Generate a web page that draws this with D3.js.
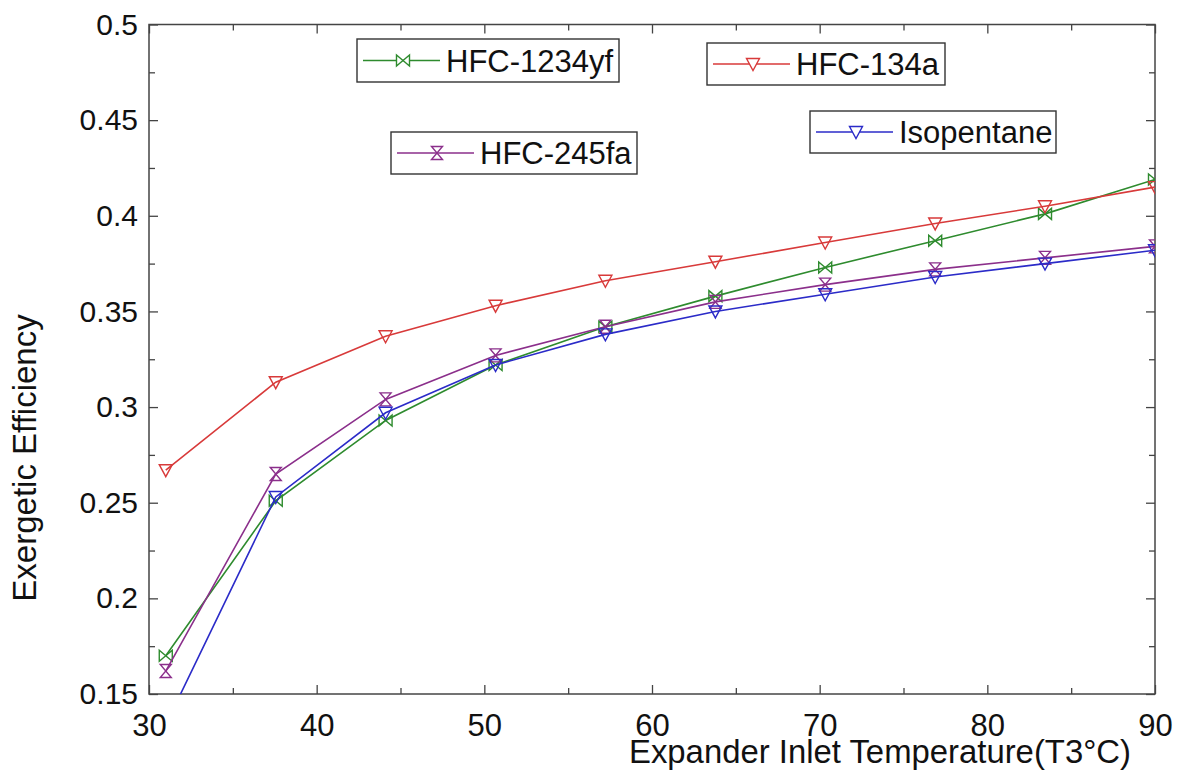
<!DOCTYPE html>
<html lang="en">

<head>
  <meta charset="UTF-8">
  <title>Exergetic Efficiency vs Expander Inlet Temperature</title>
  <script src="https://d3js.org/d3.v7.min.js"></script>
  <style>
    body {
      margin: 0;
      background: #fff;
      font-family: "Liberation Sans", Arial, sans-serif;
    }

    .tick text {
      font-family: "Liberation Sans", Arial, sans-serif;
      fill: #111;
    }

    .tick line {
      stroke: #444;
      stroke-width: 1.3;
    }

    .axis-label {
      fill: #111;
    }

    .legend-box {
      fill: #fff;
      stroke: #333;
      stroke-width: 1.4;
    }

    .legend-text {
      font-size: 31px;
      fill: #111;
    }
  </style>
</head>

<body>
  <div id="chart"></div>

  <script>
    // data
    const temps = [31, 37.56, 44.11, 50.67, 57.22, 63.78, 70.33, 76.89, 83.44, 90];
    const hfc1234yf = [0.170, 0.251, 0.293, 0.322, 0.342, 0.358, 0.373, 0.387, 0.401, 0.419];
    const hfc134a = [0.267, 0.313, 0.337, 0.353, 0.366, 0.376, 0.386, 0.396, 0.405, 0.415];
    const hfc245fa = [0.162, 0.265, 0.304, 0.327, 0.342, 0.355, 0.364, 0.372, 0.378, 0.384];
    const isopentane = [0.134, 0.253, 0.297, 0.322, 0.338, 0.350, 0.359, 0.368, 0.375, 0.382];

    const xTicks = [30, 40, 50, 60, 70, 80, 90];
    const yTicks = [0.15, 0.2, 0.25, 0.3, 0.35, 0.4, 0.45, 0.5];

    const series = [
      { name: "HFC-1234yf", values: hfc1234yf, color: "#2e8b2e", marker: "bowtie" },
      { name: "HFC-134a", values: hfc134a, color: "#d83a3a", marker: "tri" },
      { name: "HFC-245fa", values: hfc245fa, color: "#8b2f8b", marker: "hourglass" },
      { name: "Isopentane", values: isopentane, color: "#2b2bc8", marker: "tri" }
    ];

    // legend boxes sit at fixed spots, like the original figure
    const legendPos = {
      "HFC-1234yf": { x: 357, y: 39, w: 262, h: 43 },
      "HFC-134a": { x: 707, y: 43, w: 238, h: 42 },
      "HFC-245fa": { x: 391, y: 132, w: 246, h: 42 },
      "Isopentane": { x: 810, y: 111, w: 246, h: 42 }
    };

    const markerPaths = {
      tri: "M-6.5,-5.5L6.5,-5.5L0,6.5Z",
      bowtie: "M-6.5,-5.5L-6.5,5.5L6.5,-5.5L6.5,5.5Z",
      hourglass: "M-5.5,-6.5L5.5,-6.5L-5.5,6.5L5.5,6.5Z"
    };

    const margin = { top: 24.5, right: 31, bottom: 81, left: 149 };
    const totalW = 1186, totalH = 775;
    const width = totalW - margin.left - margin.right;
    const height = totalH - margin.top - margin.bottom;

    const svgRoot = d3.select("#chart").append("svg")
      .attr("width", totalW)
      .attr("height", totalH);

    const svg = svgRoot.append("g")
      .attr("transform", `translate(${margin.left},${margin.top})`);

    const x = d3.scaleLinear().domain([30, 90]).range([0, width]);
    const y = d3.scaleLinear().domain([0.15, 0.5]).range([height, 0]);

    const fmt = d => String(+d.toFixed(2));

    // minor ticks every 5 / 0.025
    const xMinor = d3.range(35, 90, 10);
    const yMinor = d3.range(0.175, 0.5, 0.05);

    function addAxis(axis, transform, showLabels) {
      const g = svg.append("g").attr("transform", transform).call(axis);
      g.select(".domain").remove();
      if (!showLabels) g.selectAll("text").remove();
      return g;
    }

    // bottom
    addAxis(d3.axisBottom(x).tickValues(xTicks).tickSize(-9).tickPadding(20).tickFormat(d => d),
      `translate(0,${height})`, true)
      .selectAll("text").style("font-size", "31px");
    addAxis(d3.axisBottom(x).tickValues(xMinor).tickSize(-6), `translate(0,${height})`, false);
    // top
    addAxis(d3.axisTop(x).tickValues(xTicks).tickSize(-9), "translate(0,0)", false);
    addAxis(d3.axisTop(x).tickValues(xMinor).tickSize(-6), "translate(0,0)", false);
    // left
    addAxis(d3.axisLeft(y).tickValues(yTicks).tickSize(-9).tickPadding(11).tickFormat(fmt),
      "translate(0,0)", true)
      .selectAll("text").style("font-size", "30px");
    addAxis(d3.axisLeft(y).tickValues(yMinor).tickSize(-6), "translate(0,0)", false);
    // right
    addAxis(d3.axisRight(y).tickValues(yTicks).tickSize(-9), `translate(${width},0)`, false);
    addAxis(d3.axisRight(y).tickValues(yMinor).tickSize(-6), `translate(${width},0)`, false);

    // frame
    svg.append("rect")
      .attr("width", width)
      .attr("height", height)
      .attr("fill", "none")
      .attr("stroke", "#444")
      .attr("stroke-width", 1.5);

    svg.append("clipPath").attr("id", "plot-clip")
      .append("rect").attr("width", width).attr("height", height);

    const plot = svg.append("g").attr("clip-path", "url(#plot-clip)");

    const line = d3.line()
      .x((d, i) => x(temps[i]))
      .y(d => y(d));

    series.forEach(s => {
      plot.append("path")
        .datum(s.values)
        .attr("fill", "none")
        .attr("stroke", s.color)
        .attr("stroke-width", 1.6)
        .attr("d", line);

      plot.selectAll(null)
        .data(s.values)
        .enter().append("path")
        .attr("transform", (d, i) => `translate(${x(temps[i])},${y(d)})`)
        .attr("d", markerPaths[s.marker])
        .attr("fill", "none")
        .attr("stroke", s.color)
        .attr("stroke-width", 1.4);
    });

    // axis titles
    svgRoot.append("text")
      .attr("class", "axis-label")
      .attr("x", 629)
      .attr("y", 763)
      .attr("textLength", 502)
      .attr("lengthAdjust", "spacingAndGlyphs")
      .style("font-size", "33px")
      .text("Expander Inlet Temperature(T3°C)");

    svgRoot.append("text")
      .attr("class", "axis-label")
      .attr("transform", "translate(36,458) rotate(-90)")
      .attr("text-anchor", "middle")
      .style("font-size", "33px")
      .text("Exergetic Efficiency");

    // legends
    series.forEach(s => {
      const p = legendPos[s.name];
      const g = svgRoot.append("g").attr("transform", `translate(${p.x},${p.y})`);
      const cy = p.h / 2;
      g.append("rect").attr("class", "legend-box").attr("width", p.w).attr("height", p.h);
      g.append("line")
        .attr("x1", 6).attr("x2", 83)
        .attr("y1", cy).attr("y2", cy)
        .attr("stroke", s.color).attr("stroke-width", 1.5);
      g.append("path")
        .attr("transform", `translate(${46},${cy})`)
        .attr("d", markerPaths[s.marker])
        .attr("fill", "#fff")
        .attr("stroke", s.color)
        .attr("stroke-width", 1.4);
      g.append("text")
        .attr("class", "legend-text")
        .attr("x", 89)
        .attr("y", cy + 11)
        .text(s.name);
    });
  </script>
</body>

</html>
